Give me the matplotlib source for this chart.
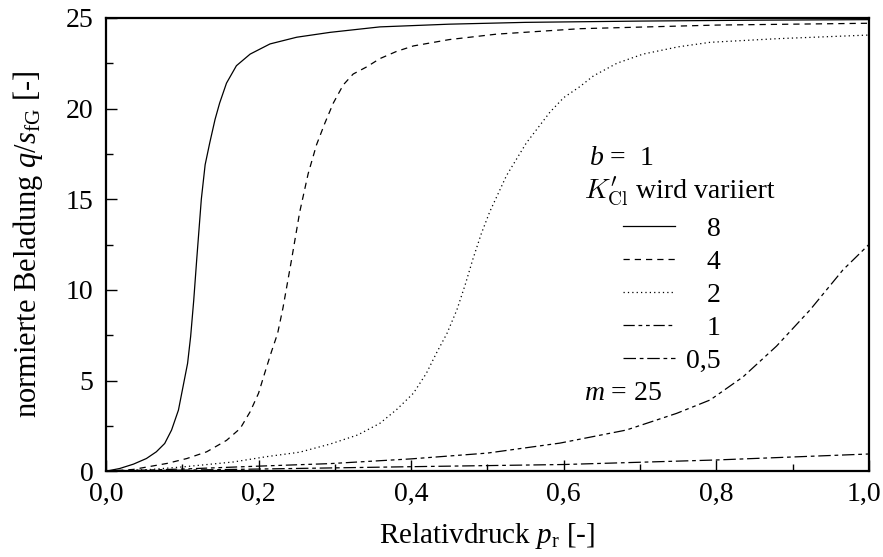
import matplotlib
matplotlib.use("Agg")
import matplotlib.pyplot as plt
from matplotlib.ticker import MultipleLocator, FuncFormatter
from matplotlib.transforms import ScaledTranslation

plt.rcParams['font.family'] = ['Liberation Serif', 'DejaVu Serif']
plt.rcParams['mathtext.fontset'] = 'custom'
plt.rcParams['mathtext.rm'] = 'Liberation Serif'
plt.rcParams['mathtext.it'] = 'Liberation Serif:italic'

# Relativdruck und normierte Beladung, je Kurve ein K'_Cl-Wert
x_k8 = [0, 0.018, 0.036, 0.053, 0.066, 0.077, 0.086, 0.095, 0.101, 0.107, 0.111,
        0.115, 0.119, 0.125, 0.13, 0.136, 0.143, 0.149, 0.158, 0.171, 0.189, 0.215,
        0.25, 0.294, 0.359, 0.45, 0.55, 0.7, 0.85, 1.0]
y_k8 = [0, 0.15, 0.39, 0.7, 1.07, 1.53, 2.27, 3.37, 4.66, 5.95, 7.43,
        9.4, 11.7, 15.0, 16.9, 18.1, 19.4, 20.3, 21.4, 22.36, 23.0, 23.56,
        23.93, 24.2, 24.5, 24.65, 24.75, 24.82, 24.87, 24.9]

x_k4 = [0, 0.036, 0.08, 0.106, 0.132, 0.158, 0.176, 0.189, 0.2, 0.208, 0.217, 0.225,
        0.232, 0.243, 0.254, 0.265, 0.276, 0.287, 0.298, 0.311, 0.324, 0.342, 0.359,
        0.381, 0.403, 0.45, 0.512, 0.621, 0.8, 1.0]
y_k4 = [0, 0.1, 0.43, 0.7, 1.07, 1.7, 2.36, 3.28, 4.3, 5.4, 6.6, 7.6,
        9.0, 11.6, 14.3, 16.4, 18.0, 19.2, 20.3, 21.3, 21.9, 22.3, 22.75,
        23.15, 23.45, 23.8, 24.1, 24.4, 24.6, 24.7]

x_k2 = [0, 0.06, 0.101, 0.167, 0.21, 0.254, 0.294, 0.33, 0.359, 0.381, 0.403, 0.42,
        0.433, 0.447, 0.46, 0.471, 0.481, 0.492, 0.503, 0.525, 0.551, 0.582, 0.6,
        0.621, 0.639, 0.67, 0.704, 0.75, 0.792, 0.88, 1.0]
y_k2 = [0, 0.1, 0.24, 0.51, 0.8, 1.05, 1.5, 2.0, 2.64, 3.4, 4.3, 5.4,
        6.5, 7.6, 8.9, 10.3, 11.7, 13.1, 14.3, 16.3, 18.1, 19.8, 20.6,
        21.2, 21.8, 22.5, 23.0, 23.4, 23.65, 23.85, 24.05]

x_k1 = [0, 0.1, 0.2, 0.294, 0.4, 0.5, 0.595, 0.682, 0.748, 0.792, 0.835, 0.879,
        0.923, 0.966, 1.0]
y_k1 = [0, 0.12, 0.28, 0.42, 0.68, 1.0, 1.55, 2.27, 3.19, 3.93, 5.2, 6.9,
        8.9, 11.1, 12.5]

x_k05 = [0, 0.2, 0.4, 0.6, 0.8, 1.0]
y_k05 = [0, 0.12, 0.25, 0.37, 0.62, 0.95]

labels = ['   8', '   4', '   2', '   1', '0,5']
styles = ['-', (0, (5, 4)), (0, (1, 2.5)), (0, (9, 3, 3, 3, 3, 3)), (0, (10, 3, 3, 3))]

fig = plt.figure(figsize=(8.83, 5.57), dpi=100)
ax = fig.add_axes([0.120, 0.154, 0.864, 0.814])

series = [(x_k8, y_k8), (x_k4, y_k4), (x_k2, y_k2), (x_k1, y_k1), (x_k05, y_k05)]
for (xs, ys), ls, lab in zip(series, styles, labels):
    ax.plot(xs, ys, color='black', lw=0.9, linestyle=ls, label=lab)

ax.set_xlim(0, 1.0)
ax.set_ylim(0, 25)
ax.xaxis.set_major_locator(MultipleLocator(0.2))
ax.xaxis.set_minor_locator(MultipleLocator(0.1))
ax.yaxis.set_major_locator(MultipleLocator(5))
ax.yaxis.set_minor_locator(MultipleLocator(2.5))
ax.xaxis.set_major_formatter(FuncFormatter(lambda v, p: f"{v:.1f}".replace('.', ',')))
ax.yaxis.set_major_formatter(FuncFormatter(lambda v, p: f"{v:.0f}"))

ax.tick_params(which='both', direction='in', top=False, right=False,
               labelsize=20, width=1.0)
ax.tick_params(axis='x', which='major', length=8, pad=8)
ax.tick_params(axis='y', which='major', length=8, pad=9)
ax.tick_params(which='minor', length=5)
for sp in ax.spines.values():
    sp.set_linewidth(1.6)

# "1,0" am rechten Rand ein paar Pixel nach links schieben
fig.canvas.draw()
last = [t for t in ax.xaxis.get_major_ticks() if abs(t.get_loc() - 1.0) < 1e-9][0]
last.label1.set_transform(last.label1.get_transform()
                          + ScaledTranslation(-5 / 100, 0, fig.dpi_scale_trans))

ax.set_xlabel(r"Relativdruck $p_{\mathrm{r}}$ [-]", fontsize=21, labelpad=10)
ax.set_ylabel(r"normierte Beladung $q/s_{\mathrm{fG}}$ [-]", fontsize=22, labelpad=15)

ax.text(0.633, 0.69, r"$b$ =  1", transform=ax.transAxes, fontsize=20,
        ha='left', va='center')
ax.text(0.627, 0.603, r"$K^{\prime}_{\mathrm{Cl}}$", transform=ax.transAxes,
        fontsize=20, ha='left', va='baseline', math_fontfamily='cm')
ax.text(0.695, 0.603, "wird variiert", transform=ax.transAxes,
        fontsize=20, ha='left', va='baseline')
ax.text(0.627, 0.172, r"$m$ = 25", transform=ax.transAxes, fontsize=20,
        ha='left', va='center')

leg = ax.legend(loc='upper left', bbox_to_anchor=(0.66, 0.593), frameon=False,
                fontsize=20, handlelength=1.85, handletextpad=0.4,
                labelspacing=0.27, borderpad=0)

fig.savefig("out.png", dpi=100)
